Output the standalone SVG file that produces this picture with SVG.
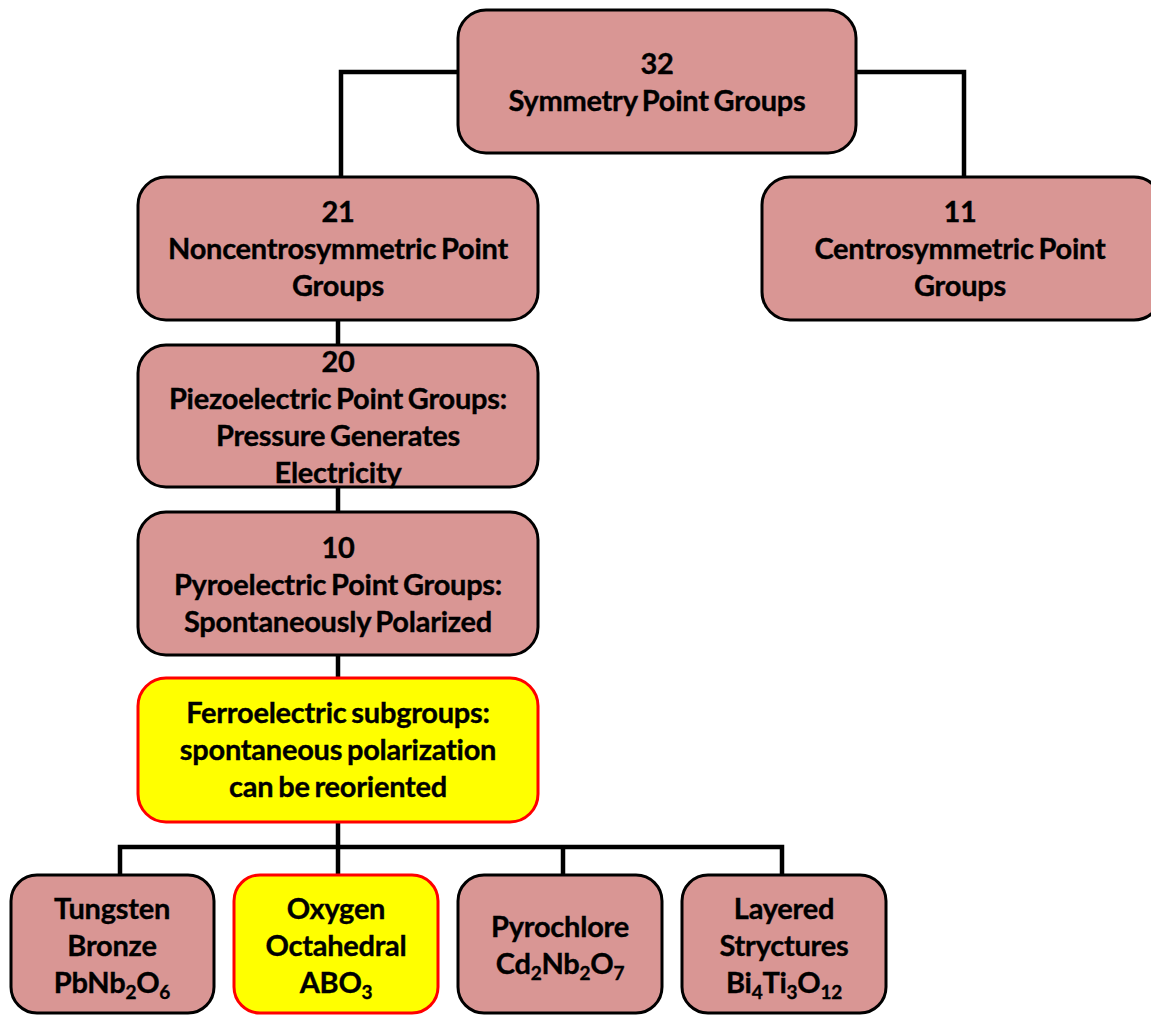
<svg xmlns="http://www.w3.org/2000/svg" width="1151" height="1015" viewBox="0 0 1151 1015">
<style>
.box{fill:#d99694;stroke:#000;stroke-width:3}
.hl{fill:#ffff00;stroke:#ff0000;stroke-width:3}
.t{font-family:Lato,"Open Sans",sans-serif;font-weight:bold;font-size:29px;letter-spacing:-0.25px;word-spacing:-2px;text-anchor:middle;fill:#000;stroke:#000;stroke-width:0.35}
.c{fill:none;stroke:#000;stroke-width:4.5}
</style>
<rect width="1151" height="1015" fill="#fff"/>
<g id="connectors">
<path class="c" d="M458,72 H341 V177"/>
<path class="c" d="M856,72 H964 V177"/>
<path class="c" d="M338,320 V345"/>
<path class="c" d="M338,487 V512"/>
<path class="c" d="M338,655 V678"/>
<path class="c" d="M338,822 V875"/>
<path class="c" d="M120,875 V847 H782 V875"/>
<path class="c" d="M563,847 V875"/>
</g>
<g id="n32">
<rect class="box" x="458" y="10" width="398" height="143" rx="28"/>
<text class="t" x="657" y="74">32</text>
<text class="t" x="657" y="111">Symmetry Point Groups</text>
</g>
<g id="n21">
<rect class="box" x="138" y="177" width="400" height="143" rx="28"/>
<text class="t" x="338" y="222">21</text>
<text class="t" x="338" y="259">Noncentrosymmetric Point</text>
<text class="t" x="338" y="296">Groups</text>
</g>
<g id="n11">
<rect class="box" x="762" y="177" width="400" height="143" rx="28"/>
<text class="t" x="960" y="222">11</text>
<text class="t" x="960" y="259">Centrosymmetric Point</text>
<text class="t" x="960" y="296">Groups</text>
</g>
<g id="n20">
<rect class="box" x="138" y="345" width="400" height="142" rx="28"/>
<text class="t" x="338" y="372">20</text>
<text class="t" x="338" y="409">Piezoelectric Point Groups:</text>
<text class="t" x="338" y="446">Pressure Generates</text>
<text class="t" x="338" y="483">Electricity</text>
</g>
<g id="n10">
<rect class="box" x="138" y="512" width="400" height="143" rx="28"/>
<text class="t" x="338" y="558">10</text>
<text class="t" x="338" y="595">Pyroelectric Point Groups:</text>
<text class="t" x="338" y="632">Spontaneously Polarized</text>
</g>
<g id="nferro">
<rect class="hl" x="138" y="678" width="400" height="144" rx="28"/>
<text class="t" x="338" y="723">Ferroelectric subgroups:</text>
<text class="t" x="338" y="760">spontaneous polarization</text>
<text class="t" x="338" y="797">can be reoriented</text>
</g>
<g id="ntungsten">
<rect class="box" x="11" y="875" width="203" height="138" rx="26"/>
<text class="t" x="112" y="919">Tungsten</text>
<text class="t" x="112" y="956">Bronze</text>
<text class="t" x="112" y="993">PbNb<tspan font-size="19" dy="6">2</tspan><tspan dy="-6">O</tspan><tspan font-size="19" dy="6">6</tspan></text>
</g>
<g id="noxygen">
<rect class="hl" x="234" y="875" width="204" height="138" rx="26"/>
<text class="t" x="336" y="919">Oxygen</text>
<text class="t" x="336" y="956">Octahedral</text>
<text class="t" x="336" y="993">ABO<tspan font-size="19" dy="6">3</tspan></text>
</g>
<g id="npyro">
<rect class="box" x="458" y="875" width="204" height="138" rx="26"/>
<text class="t" x="560" y="937">Pyrochlore</text>
<text class="t" x="560" y="974">Cd<tspan font-size="19" dy="6">2</tspan><tspan dy="-6">Nb</tspan><tspan font-size="19" dy="6">2</tspan><tspan dy="-6">O</tspan><tspan font-size="19" dy="6">7</tspan></text>
</g>
<g id="nlayered">
<rect class="box" x="682" y="875" width="204" height="138" rx="26"/>
<text class="t" x="784" y="919">Layered</text>
<text class="t" x="784" y="956">Stryctures</text>
<text class="t" x="784" y="993">Bi<tspan font-size="19" dy="6">4</tspan><tspan dy="-6">Ti</tspan><tspan font-size="19" dy="6">3</tspan><tspan dy="-6">O</tspan><tspan font-size="19" dy="6">12</tspan></text>
</g>
</svg>
